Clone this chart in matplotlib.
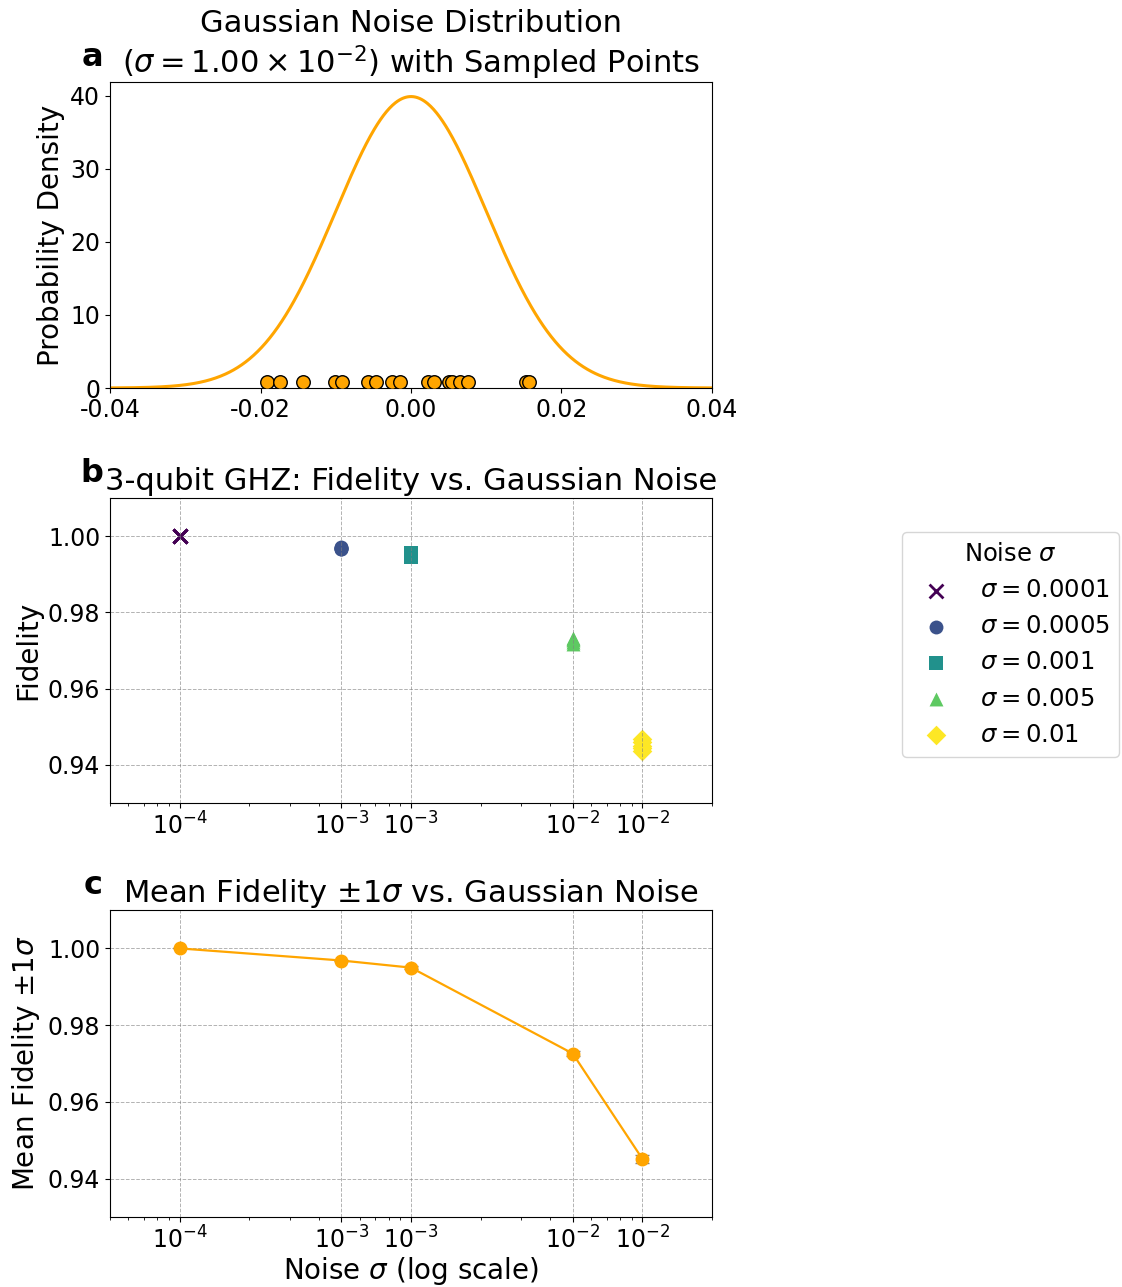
import numpy as np
import matplotlib
matplotlib.use('Agg')
import matplotlib.pyplot as plt

plt.rcParams['axes.unicode_minus'] = False

# ---------- DATA ----------
noise_sigma = 1.0e-2
samples = [-0.0191, -0.0174, -0.0143, -0.0101, -0.0092, -0.0057, -0.0046,
           -0.0025, -0.0015, 0.0022, 0.0031, 0.0051, 0.0054, 0.0065, 0.0076,
           0.0153, 0.0157]

sigmas = [0.0001, 0.0005, 0.001, 0.005, 0.01]
sigma_labels = ["0.0001", "0.0005", "0.001", "0.005", "0.01"]
tick_labels = [r"$10^{-4}$", r"$10^{-3}$", r"$10^{-3}$", r"$10^{-2}$", r"$10^{-2}$"]
markers = ["x", "o", "s", "^", "D"]

fid_trials = [
    [1.0000, 0.99999, 1.0000, 0.99998, 1.0000],
    [0.9972, 0.9968, 0.9965, 0.9970, 0.9967],
    [0.9957, 0.9949, 0.9944, 0.9952, 0.9947],
    [0.9733, 0.9728, 0.9716, 0.9731, 0.9722],
    [0.9468, 0.9449, 0.9437, 0.9460, 0.9444],
]

means = [np.mean(f) for f in fid_trials]
stds = [np.std(f) for f in fid_trials]
colors = plt.cm.viridis(np.linspace(0, 1, len(sigmas)))

fig = plt.figure(figsize=(11.22, 12.87), dpi=100)
W, H = 1122, 1287

def box(l, t, r, b):
    return [l / W, 1 - b / H, (r - l) / W, (b - t) / H]

ax_a = fig.add_axes(box(110, 82, 712, 388))
ax_b = fig.add_axes(box(110, 498, 712, 803))
ax_c = fig.add_axes(box(110, 910, 712, 1217))

# ---------- PANEL A ----------
x = np.linspace(-0.04, 0.04, 600)
pdf = np.exp(-0.5 * (x / noise_sigma) ** 2) / (noise_sigma * np.sqrt(2 * np.pi))
ax_a.plot(x, pdf, color='orange', lw=2.2)
ax_a.scatter(samples, np.full(len(samples), 0.02 * pdf.max()), s=95,
             color='orange', edgecolor='black', linewidth=1.0, zorder=3)
ax_a.set_xlim(-0.04, 0.04)
ax_a.set_ylim(0, pdf.max() * 1.05)
ax_a.set_xticks([-0.04, -0.02, 0.0, 0.02, 0.04])
ax_a.set_xticklabels(["-0.04", "-0.02", "0.00", "0.02", "0.04"])
ax_a.set_ylabel("Probability Density", fontsize=20)
ax_a.set_title("Gaussian Noise Distribution\n"
               r"($\sigma = 1.00 \times 10^{-2}$) with Sampled Points", fontsize=22)

# ---------- PANEL B ----------
for i, s in enumerate(sigmas):
    ax_b.scatter([s] * len(fid_trials[i]), fid_trials[i], marker=markers[i],
                 color=colors[i], s=100, linewidths=2 if markers[i] == 'x' else 0,
                 label=rf"$\sigma = {sigma_labels[i]}$")
ax_b.set_ylabel("Fidelity", fontsize=20)
ax_b.set_title("3-qubit GHZ: Fidelity vs. Gaussian Noise", fontsize=22)
leg = ax_b.legend(title=r"Noise $\sigma$", loc='center left',
                  bbox_to_anchor=(1.295, 0.52), fontsize=17.5, title_fontsize=17.5)

# ---------- PANEL C ----------
ax_c.errorbar(sigmas, means, yerr=stds, fmt='o-', color='orange', ecolor='gray',
              capsize=5, elinewidth=1, markersize=9, lw=1.6)
ax_c.set_ylabel(r"Mean Fidelity $\pm 1\sigma$", fontsize=20)
ax_c.set_xlabel(r"Noise $\sigma$ (log scale)", fontsize=20, labelpad=1)
ax_c.set_title(r"Mean Fidelity $\pm 1\sigma$ vs. Gaussian Noise", fontsize=22)

for ax in (ax_b, ax_c):
    ax.set_xscale('log')
    ax.set_xlim(min(sigmas) / 2, max(sigmas) * 2)
    ax.set_ylim(0.93, 1.01)
    ax.set_xticks(sigmas)
    ax.set_xticklabels(tick_labels)
    ax.set_yticks([0.94, 0.96, 0.98, 1.00])
    ax.grid(True, which='major', ls='--', lw=0.7, color='gray', alpha=0.6)

for ax, letter in zip((ax_a, ax_b, ax_c), "abc"):
    ax.tick_params(labelsize=17)
    ax.text(-0.012, 1.052, letter, transform=ax.transAxes, fontsize=23,
            fontweight='bold', ha='right', va='baseline')

fig.savefig("out.png", dpi=100)
